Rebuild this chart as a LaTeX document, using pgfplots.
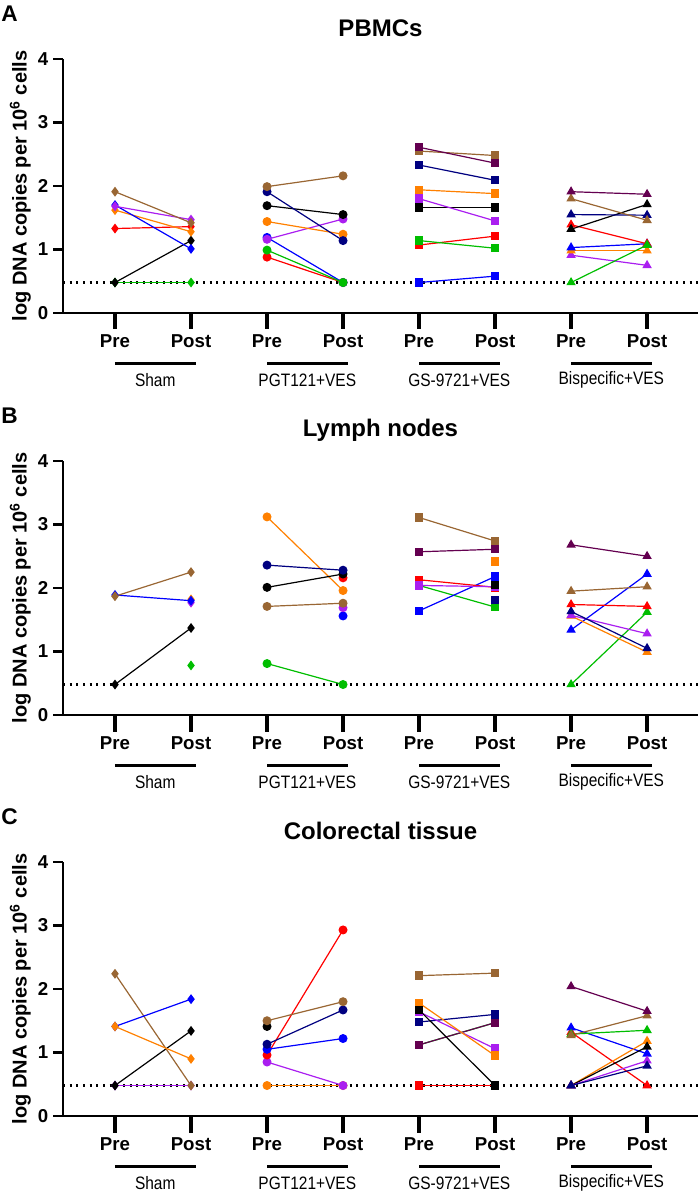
\documentclass[border=0pt]{standalone}
\usepackage{pgfplots}
\pgfplotsset{compat=1.18}
\usepackage{fontspec}
\setmainfont{Liberation Sans}
\newfontfamily\narrowfont[FakeStretch=0.86]{Liberation Sans}

\definecolor{cbrown}{RGB}{153,102,51}
\definecolor{cblue}{RGB}{0,0,255}
\definecolor{cviolet}{RGB}{170,30,240}
\definecolor{corange}{RGB}{255,128,0}
\definecolor{cred}{RGB}{255,0,0}
\definecolor{cgreen}{RGB}{0,190,0}
\definecolor{cnavy}{RGB}{0,0,128}
\definecolor{cmaroon}{RGB}{100,0,80}

\pgfplotsset{
  sh/.style={line width=0.9pt, mark=diamond*, mark size=3pt},
  pg/.style={line width=0.9pt, mark=*, mark size=2.9pt},
  gs/.style={line width=0.9pt, mark=square*, mark size=2.7pt},
  bs/.style={line width=0.9pt, mark=triangle*, mark size=3.2pt},
  tk/.style={black, line width=2.4pt, mark=none, line cap=butt},
  panel/.style={
    scale only axis, width=476.25pt, height=190.5pt,
    anchor=south west,
    xmin=0.316, xmax=8.67, ymin=0, ymax=4,
    axis x line*=bottom, axis y line*=left,
    axis line style={-, line width=2.2pt},
    xtick={1,2,3,4,5,6,7,8},
    xticklabels={Pre,Post,Pre,Post,Pre,Post,Pre,Post},
    ytick={0,1,2,3,4},
    tick align=outside,
    major tick length=7.5pt,
    tick style={line width=2.2pt, black},
    xtick style={draw=none},
    xticklabel style={font=\bfseries\fontsize{14}{16}\selectfont, yshift=-5pt},
    yticklabel style={font=\bfseries\fontsize{14}{16}\selectfont},
    /pgf/number format/assume math mode=true,
    clip=false,
  },
}

\newcommand{\decor}[2]{%
  \addplot[black, line width=1.6pt, dash pattern=on 1.6pt off 3.4pt, mark=none] coordinates {(0.316,0.48) (8.67,0.48)};
  \addplot[tk] coordinates {(1,0) (1,-0.26)};
  \addplot[tk] coordinates {(2,0) (2,-0.26)};
  \addplot[tk] coordinates {(3,0) (3,-0.26)};
  \addplot[tk] coordinates {(4,0) (4,-0.26)};
  \addplot[tk] coordinates {(5,0) (5,-0.26)};
  \addplot[tk] coordinates {(6,0) (6,-0.26)};
  \addplot[tk] coordinates {(7,0) (7,-0.26)};
  \addplot[tk] coordinates {(8,0) (8,-0.26)};
  \draw[line width=2.2pt] (axis cs:1,-0.8) -- (axis cs:2.07,-0.8);
  \draw[line width=2.2pt] (axis cs:3,-0.8) -- (axis cs:4.07,-0.8);
  \draw[line width=2.2pt] (axis cs:5,-0.8) -- (axis cs:6.07,-0.8);
  \draw[line width=2.2pt] (axis cs:7,-0.8) -- (axis cs:8.07,-0.8);
  \node[font=\narrowfont\fontsize{13.5}{15}\selectfont] at (axis cs:1.53,-1.06) {Sham};
  \node[font=\narrowfont\fontsize{13.5}{15}\selectfont] at (axis cs:3.53,-1.06) {PGT121+VES};
  \node[font=\narrowfont\fontsize{13.5}{15}\selectfont] at (axis cs:5.53,-1.06) {GS-9721+VES};
  \node[font=\narrowfont\fontsize{13.5}{15}\selectfont] at (axis cs:7.53,-1.06) {Bispecific+VES};
  \node[font=\bfseries\fontsize{18}{20}\selectfont, yshift=23pt] at (rel axis cs:0.5,1) {#1};
  \node[font=\bfseries\fontsize{17}{19}\selectfont, xshift=-40pt, yshift=34pt] at (rel axis cs:0,1) {#2};
  \node[font=\bfseries\fontsize{15}{17}\selectfont, rotate=90, yshift=32pt] at (rel axis cs:0,0.5) {log DNA copies per 10\textsuperscript{6} cells};
}

\begin{document}
\begin{tikzpicture}
\path[use as bounding box] (0,0) rectangle (523.5pt,895.5pt);

% ---------------- Panel A: PBMCs ----------------
\begin{axis}[panel, at={(47.25pt,660.75pt)}]
\decor{PBMCs}{A}
% Sham
\addplot[sh,cgreen] coordinates {(1,0.48) (2,0.48)};
\addplot[sh,black] coordinates {(1,0.48) (2,1.14)};
\addplot[sh,cred] coordinates {(1,1.33) (2,1.36)};
\addplot[sh,corange] coordinates {(1,1.62) (2,1.28)};
\addplot[sh,cblue] coordinates {(1,1.70) (2,1.01)};
\addplot[sh,cviolet] coordinates {(1,1.68) (2,1.47)};
\addplot[sh,cbrown] coordinates {(1,1.91) (2,1.42)};
% PGT121
\addplot[pg,cred] coordinates {(3,0.88) (4,0.48)};
\addplot[pg,cblue] coordinates {(3,1.19) (4,0.48)};
\addplot[pg,cgreen] coordinates {(3,0.99) (4,0.48)};
\addplot[pg,cviolet] coordinates {(3,1.16) (4,1.48)};
\addplot[pg,corange] coordinates {(3,1.44) (4,1.24)};
\addplot[pg,black] coordinates {(3,1.69) (4,1.55)};
\addplot[pg,cnavy] coordinates {(3,1.91) (4,1.14)};
\addplot[pg,cbrown] coordinates {(3,1.99) (4,2.16)};
% GS-9721
\addplot[gs,cblue] coordinates {(5,0.48) (6,0.58)};
\addplot[gs,cred] coordinates {(5,1.07) (6,1.21)};
\addplot[gs,cgreen] coordinates {(5,1.14) (6,1.02)};
\addplot[gs,black] coordinates {(5,1.66) (6,1.66)};
\addplot[gs,cviolet] coordinates {(5,1.80) (6,1.45)};
\addplot[gs,corange] coordinates {(5,1.94) (6,1.88)};
\addplot[gs,cnavy] coordinates {(5,2.33) (6,2.09)};
\addplot[gs,cbrown] coordinates {(5,2.55) (6,2.48)};
\addplot[gs,cmaroon] coordinates {(5,2.61) (6,2.36)};
% Bispecific
\addplot[bs,cviolet] coordinates {(7,0.91) (8,0.75)};
\addplot[bs,corange] coordinates {(7,0.98) (8,0.98)};
\addplot[bs,cblue] coordinates {(7,1.03) (8,1.09)};
\addplot[bs,cred] coordinates {(7,1.39) (8,1.09)};
\addplot[bs,cgreen] coordinates {(7,0.48) (8,1.07)};
\addplot[bs,black] coordinates {(7,1.32) (8,1.71)};
\addplot[bs,cnavy] coordinates {(7,1.55) (8,1.54)};
\addplot[bs,cbrown] coordinates {(7,1.80) (8,1.46)};
\addplot[bs,cmaroon] coordinates {(7,1.91) (8,1.87)};
\end{axis}

% ---------------- Panel B: Lymph nodes ----------------
\begin{axis}[panel, at={(47.25pt,359.25pt)}]
\decor{Lymph nodes}{B}
% Sham
\addplot[sh,cgreen] coordinates {(2,0.78)};
\addplot[sh,black] coordinates {(1,0.48) (2,1.37)};
\addplot[sh,cviolet] coordinates {(2,1.77)};
\addplot[sh,corange] coordinates {(2,1.82)};
\addplot[sh,cblue] coordinates {(1,1.89) (2,1.80)};
\addplot[sh,cbrown] coordinates {(1,1.87) (2,2.25)};
% PGT121
\addplot[pg,cgreen] coordinates {(3,0.81) (4,0.48)};
\addplot[pg,cblue] coordinates {(4,1.56)};
\addplot[pg,cviolet] coordinates {(4,1.69)};
\addplot[pg,cbrown] coordinates {(3,1.71) (4,1.76)};
\addplot[pg,corange] coordinates {(3,3.12) (4,1.96)};
\addplot[pg,cred] coordinates {(4,2.16)};
\addplot[pg,black] coordinates {(3,2.01) (4,2.22)};
\addplot[pg,cnavy] coordinates {(3,2.36) (4,2.28)};
% GS-9721
\addplot[gs,cgreen] coordinates {(5,2.04) (6,1.70)};
\addplot[gs,cnavy] coordinates {(6,1.81)};
\addplot[gs,cblue] coordinates {(5,1.64) (6,2.18)};
\addplot[gs,cred] coordinates {(5,2.13) (6,2.01)};
\addplot[gs,cviolet] coordinates {(5,2.04) (6,2.02)};
\addplot[gs,black] coordinates {(6,2.05)};
\addplot[gs,corange] coordinates {(6,2.42)};
\addplot[gs,cmaroon] coordinates {(5,2.57) (6,2.61)};
\addplot[gs,cbrown] coordinates {(5,3.11) (6,2.74)};
% Bispecific
\addplot[bs,cgreen] coordinates {(7,0.48) (8,1.62)};
\addplot[bs,cblue] coordinates {(7,1.34) (8,2.22)};
\addplot[bs,corange] coordinates {(7,1.56) (8,0.99)};
\addplot[bs,cviolet] coordinates {(7,1.57) (8,1.28)};
\addplot[bs,cnavy] coordinates {(7,1.63) (8,1.05)};
\addplot[bs,cred] coordinates {(7,1.74) (8,1.71)};
\addplot[bs,cbrown] coordinates {(7,1.95) (8,2.02)};
\addplot[bs,cmaroon] coordinates {(7,2.68) (8,2.50)};
\end{axis}

% ---------------- Panel C: Colorectal tissue ----------------
\begin{axis}[panel, at={(47.25pt,58.5pt)}]
\decor{Colorectal tissue}{C}
% Sham
\addplot[sh,cviolet] coordinates {(1,0.48) (2,0.48)};
\addplot[sh,black] coordinates {(1,0.48) (2,1.34)};
\addplot[sh,cbrown] coordinates {(1,2.24) (2,0.48)};
\addplot[sh,cblue] coordinates {(1,1.41) (2,1.84)};
\addplot[sh,corange] coordinates {(1,1.41) (2,0.90)};
% PGT121
\addplot[pg,corange] coordinates {(3,0.48) (4,0.48)};
\addplot[pg,cviolet] coordinates {(3,0.85) (4,0.48)};
\addplot[pg,cred] coordinates {(3,0.96) (4,2.93)};
\addplot[pg,cblue] coordinates {(3,1.05) (4,1.22)};
\addplot[pg,cnavy] coordinates {(3,1.13) (4,1.67)};
\addplot[pg,black] coordinates {(3,1.41)};
\addplot[pg,cbrown] coordinates {(3,1.50) (4,1.80)};
% GS-9721
\addplot[gs,cred] coordinates {(5,0.48) (6,0.48)};
\addplot[gs,cgreen] coordinates {(5,1.12) (6,1.47)};
\addplot[gs,cmaroon] coordinates {(5,1.12) (6,1.47)};
\addplot[gs,cnavy] coordinates {(5,1.48) (6,1.60)};
\addplot[gs,cviolet] coordinates {(5,1.64) (6,1.06)};
\addplot[gs,corange] coordinates {(5,1.78) (6,0.95)};
\addplot[gs,black] coordinates {(5,1.67) (6,0.48)};
\addplot[gs,cbrown] coordinates {(5,2.21) (6,2.25)};
% Bispecific
\addplot[bs,cred] coordinates {(7,1.32) (8,0.48)};
\addplot[bs,cblue] coordinates {(7,1.39) (8,0.98)};
\addplot[bs,cgreen] coordinates {(7,1.29) (8,1.35)};
\addplot[bs,cbrown] coordinates {(7,1.27) (8,1.58)};
\addplot[bs,cmaroon] coordinates {(7,2.04) (8,1.65)};
\addplot[bs,corange] coordinates {(7,0.48) (8,1.18)};
\addplot[bs,black] coordinates {(7,0.48) (8,1.09)};
\addplot[bs,cviolet] coordinates {(7,0.48) (8,0.87)};
\addplot[bs,cnavy] coordinates {(7,0.48) (8,0.79)};
\end{axis}
\end{tikzpicture}
\end{document}
